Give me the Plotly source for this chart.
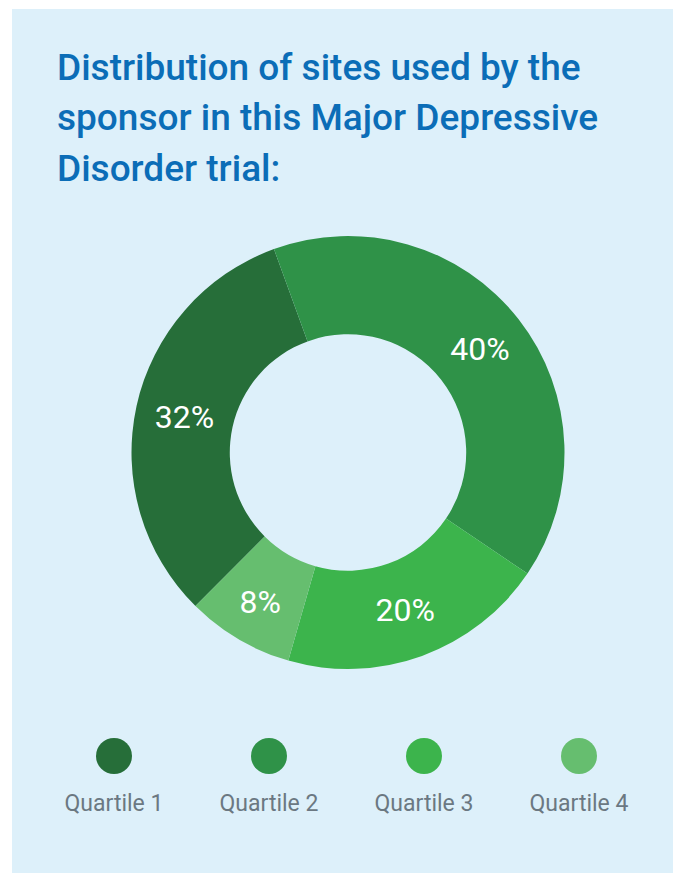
import plotly.graph_objects as go

W, H = 673, 873

categories = ["Quartile 1", "Quartile 2", "Quartile 3", "Quartile 4"]
values = [32, 40, 20, 8]
colors = ["#266E39", "#2F9248", "#3CB44C", "#66BE6F"]
title_lines = ["Distribution of sites used by the",
               "sponsor in this Major Depressive",
               "Disorder trial:"]

def px(x):
    return x / W

def py(y):
    return 1 - y / H

fig = go.Figure()

cx, cy, R = 348.0, 452.5, 216.5
fig.add_trace(go.Pie(
    labels=categories, values=values, sort=False, direction="clockwise",
    rotation=224.8, hole=0.546,
    marker=dict(colors=colors, line=dict(width=0)),
    texttemplate="%{value}%", textposition="inside",
    insidetextorientation="horizontal",
    textfont=dict(family="Roboto", size=32, color="white"),
    domain=dict(x=[px(cx - R), px(cx + R)], y=[py(cy + R), py(cy - R)]),
    showlegend=False, hoverinfo="label+percent",
))

idx = list(range(len(categories)))
fig.add_trace(go.Scatter(
    x=idx, y=[1] * len(idx), mode="markers",
    marker=dict(size=36, color=colors, line=dict(width=0)),
    showlegend=False, hoverinfo="skip",
))
fig.add_trace(go.Scatter(
    x=idx, y=[0] * len(idx), mode="text", text=categories,
    textposition="middle center",
    textfont=dict(family="Roboto", size=23, color="#6B7882"),
    showlegend=False, hoverinfo="skip",
))

fig.update_xaxes(range=[-114 / 155, (673 - 114) / 155], domain=[0, 1],
                 visible=False, fixedrange=True)
fig.update_yaxes(range=[-68 / 49, 805 / 49], domain=[0, 1],
                 visible=False, fixedrange=True)

annotations = []
for i, line in enumerate(title_lines):
    annotations.append(dict(
        text=line, x=px(55), y=py(91 + 50.5 * i), xref="paper", yref="paper",
        xanchor="left", yanchor="bottom", showarrow=False,
        font=dict(family="Roboto", size=37, color="#0B6DB7", weight=500),
    ))

fig.update_layout(
    width=W, height=H, margin=dict(l=0, r=0, t=0, b=0),
    paper_bgcolor="white", plot_bgcolor="rgba(0,0,0,0)",
    shapes=[dict(type="rect", xref="paper", yref="paper",
                 x0=px(12), x1=1, y0=0, y1=py(9),
                 fillcolor="#DDF0FA", line=dict(width=0), layer="below")],
    annotations=annotations,
)

fig.write_html("out.html")
